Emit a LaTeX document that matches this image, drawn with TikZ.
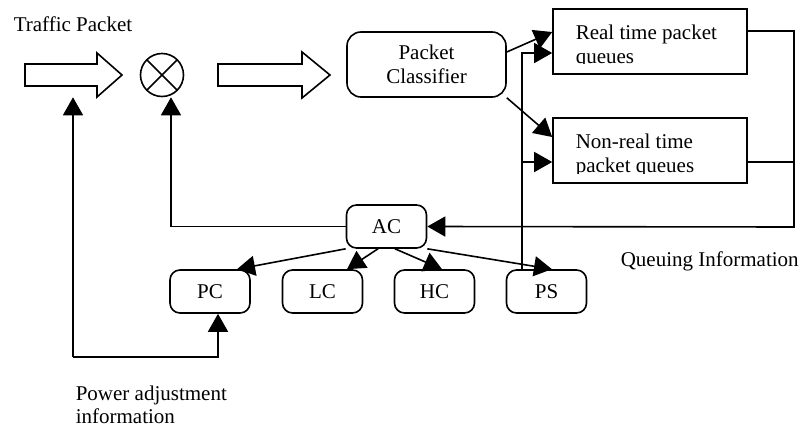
\documentclass[tikz,border=0pt]{standalone}
\usepackage{fontspec}
\setmainfont{Liberation Serif}
\usetikzlibrary{arrows.meta}

\begin{document}
\begin{tikzpicture}[x=0.5pt,y=-0.5pt,
  font=\fontsize{10.5}{12}\selectfont,
  line width=0.8pt,
  >={Triangle[length=9pt,width=10pt]},
  box/.style={draw,rounded corners=5pt,minimum width=40pt,minimum height=21.5pt,inner sep=0pt},
  queue/.style={draw,minimum width=97pt,minimum height=32.5pt,inner sep=0pt},
  label/.style={inner sep=0pt}]
  \useasboundingbox (0,0) rectangle (799,428);

  % input stage
  \node[label,anchor=base west] (tp) at (13,32) {Traffic Packet};
  \draw (25,64) -- (97,64) -- (97,53) -- (122,75) -- (97,97) -- (97,86) -- (25,86) -- cycle;
  \node[draw,circle,minimum size=21.5pt,inner sep=0pt,
    path picture={
      \draw (path picture bounding box.north west) -- (path picture bounding box.south east);
      \draw (path picture bounding box.north east) -- (path picture bounding box.south west);
    }] (mix) at (162,75) {};
  \draw (218,64) -- (302,64) -- (302,52) -- (330,75) -- (302,98) -- (302,86) -- (218,86) -- cycle;
  \node[box,rounded corners=7pt,minimum width=79.5pt,minimum height=32.5pt,align=center] (cls) at (426.5,64.5) {Packet\\Classifier};

  % queues
  \node[queue] (rtq) at (650,41.5) {};
  \node[queue] (nrtq) at (650,150.5) {};
  \begin{scope}
    \clip (rtq.north west) rectangle ([yshift=5.75pt]rtq.south east);
    \node[label,anchor=base west,align=left] at (575,63) {Real time packet\\queues};
  \end{scope}
  \begin{scope}
    \clip (nrtq.north west) rectangle ([yshift=5.25pt]nrtq.south east);
    \node[label,anchor=base west,align=left] at (575,172) {Non-real time\\packet queues};
  \end{scope}

  % control blocks
  \node[box] (ac) at (386.5,226.5) {AC};
  \node[box] (pc) at (210,291.5) {PC};
  \node[box] (lc) at (322.5,291.5) {LC};
  \node[box] (hc) at (434.5,291.5) {HC};
  \node[box] (ps) at (546.5,291.5) {PS};

  \node[label,anchor=base west] (qinfo) at (620,266) {Queuing Information};
  \node[label,anchor=north west,align=left,font=\fontsize{10.5}{11.5}\selectfont] (pinfo) at (75,385) {Power adjustment\\information};

  % classifier to queues
  \draw[->] ([yshift=6.25pt]cls.east) -- ([yshift=4.75pt]rtq.west);
  \draw[->] (cls.south east) -- ([yshift=6.75pt]nrtq.west);

  % queuing information back to AC
  \coordinate (qr) at (794,227);
  \coordinate (nr) at ([yshift=-5.75pt]nrtq.east);
  \draw[->] ([yshift=5.25pt]rtq.east) -| (qr) -- (ac.east);
  \draw (nr) -- (nr -| qr);

  % AC outputs
  \draw[->] (ac.west) -| ([xshift=4.5pt]mix.south);
  \draw[->] (ac.south west) -- ([xshift=13.5pt]pc.north);
  \draw[->] ([xshift=-4.25pt]ac.south) -- ([xshift=12.25pt]lc.north);
  \draw[->] ([xshift=4.25pt]ac.south) -- ([xshift=3.75pt]hc.north);
  \draw[->] (ac.south east) -- ([xshift=2.75pt]ps.north);

  % scheduler feeds the queues
  \coordinate (ps0) at ([xshift=-12.25pt]ps.north);
  \draw[->] (ps0) |- ([yshift=-5.75pt]rtq.west);
  \draw[->] (ps0) |- ([yshift=-5.75pt]nrtq.west);

  % power adjustment loop
  \coordinate (pa) at (73,357);
  \draw[->] (pa) -| ([xshift=4pt]pc.south);
  \draw[->] (pa) -- (pa |- mix.south);
\end{tikzpicture}
\end{document}
